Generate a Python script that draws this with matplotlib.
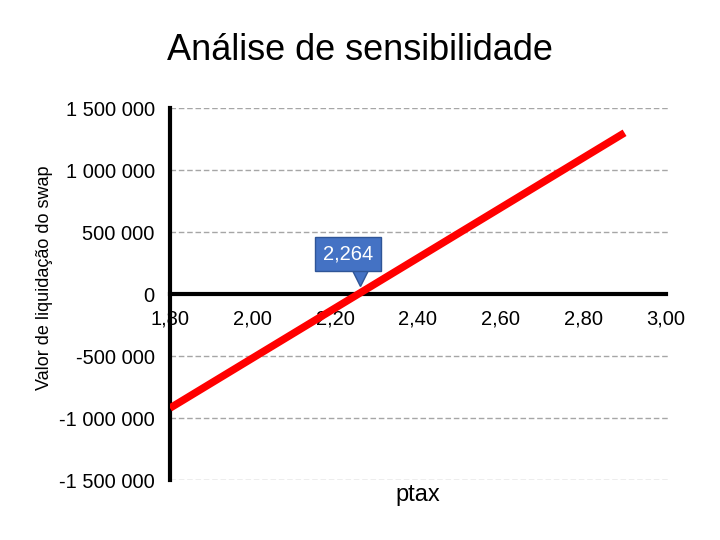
import numpy as np
import matplotlib.pyplot as plt
from matplotlib.transforms import offset_copy

plt.rcParams['font.family'] = ['Liberation Sans', 'DejaVu Sans']

# dados
ptax = [1.80, 2.90]
valor = [-920000, 1300000]
breakeven = 2.264
xticks = [1.80, 2.00, 2.20, 2.40, 2.60, 2.80, 3.00]
yticks = [-1500000, -1000000, -500000, 0, 500000, 1000000, 1500000]

fig = plt.figure(figsize=(7.2, 5.4), dpi=100)
ax = fig.add_axes([170 / 720, 60 / 540, 500 / 720, 372 / 540])

# grade horizontal tracejada
for v in yticks:
    if v != 0:
        ax.axhline(v, color='#a6a6a6', lw=1, ls=(0, (4, 2)), zorder=1)

ax.plot(ptax, valor, color='#ff0000', lw=5.4, solid_capstyle='butt', zorder=3)

ax.set_xlim(1.80, 3.01)
ax.set_ylim(-1500000, 1500000)

ax.spines['top'].set_visible(False)
ax.spines['right'].set_visible(False)
ax.spines['left'].set_position(('data', 1.80))
ax.spines['bottom'].set_position(('data', 0))
ax.spines['bottom'].set_bounds(1.80, 3.00)
for s in ['left', 'bottom']:
    ax.spines[s].set_linewidth(3)
    ax.spines[s].set_zorder(2)

ax.set_xticks(xticks)
ax.set_xticklabels([f'{t:.2f}'.replace('.', ',') for t in xticks])
ax.set_yticks(yticks)
ax.set_yticklabels([f'{t:,.0f}'.replace(',', ' ') for t in yticks])
ax.tick_params(axis='x', length=0, pad=11, labelsize=14.5)
ax.tick_params(axis='y', length=0, pad=11, labelsize=14.5)

# rótulo do ponto de equilíbrio
blue = '#4472c4'
ax.annotate(f'{breakeven:.3f}'.replace('.', ','), xy=(breakeven, 0),
            xytext=(-14, 40), textcoords='offset pixels', ha='center', va='center',
            color='white', fontsize=14.5, zorder=5,
            bbox=dict(boxstyle='square,pad=0.38', fc=blue, ec='#2f5597', lw=1))
tri = offset_copy(ax.transData, fig=fig, x=-2, y=16, units='dots')
ax.plot(breakeven, 0, marker='v', ms=11, color=blue, mec='#2f5597',
        mew=1, transform=tri, zorder=4, clip_on=False)

fig.text(0.5, 1 - 50 / 540, 'Análise de sensibilidade', ha='center', va='center', fontsize=26)
fig.text(45 / 720, 1 - 278 / 540, 'Valor de liquidação do swap', rotation=90,
         ha='center', va='center', fontsize=13)
fig.text(418 / 720, 1 - 495 / 540, 'ptax', ha='center', va='center', fontsize=17)

fig.savefig('out.png', dpi=100)
